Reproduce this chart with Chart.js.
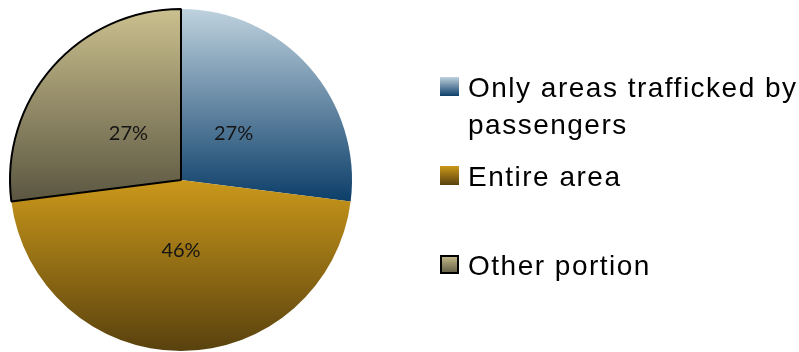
<!DOCTYPE html>
<html>
<head>
<meta charset="utf-8">
<script src="https://cdn.jsdelivr.net/npm/chart.js@4"></script>
<style>
  html, body { margin: 0; padding: 0; background: #fff; }
  #wrap { width: 799px; height: 352px; }
</style>
</head>
<body>
<div id="wrap"><canvas id="areaChart" width="799" height="352"></canvas></div>
<script>
// Cleaning scope shares
const categories = ["Only areas trafficked by passengers", "Entire area", "Other portion"];
const shares = [27, 46, 27];
const valueLabels = ["27%", "46%", "27%"];

// top / bottom colour of each slice's vertical gradient
const gradTop = ["#bfd2de", "#cb981a", "#cbc08e"];
const gradBottom = ["#0c3e69", "#58410e", "#5b5641"];
const sliceBorder = ["rgba(0,0,0,0)", "rgba(0,0,0,0)", "#000000"];
const sliceBorderWidth = [0, 0, 2];

// vertical extent of slice i, used to lay the gradient over it
function sliceYRange(chart, i) {
  const a = chart.chartArea;
  const cy = (a.top + a.bottom) / 2;
  const r = Math.min(a.right - a.left, a.bottom - a.top) / 2;
  const total = shares.reduce((s, v) => s + v, 0);
  let start = 0;
  for (let k = 0; k < i; k++) start += shares[k] / total;
  const end = start + shares[i] / total;
  let minY = cy, maxY = cy;
  for (let t = 0; t <= 60; t++) {
    const ang = (start + (end - start) * t / 60) * 2 * Math.PI - Math.PI / 2;
    const y = cy + r * Math.sin(ang);
    minY = Math.min(minY, y);
    maxY = Math.max(maxY, y);
  }
  return [minY, maxY];
}

function sliceFill(ctx) {
  const chart = ctx.chart;
  if (!chart.chartArea) return gradTop[ctx.dataIndex];
  const [y0, y1] = sliceYRange(chart, ctx.dataIndex);
  const g = chart.ctx.createLinearGradient(0, y0, 0, y1);
  g.addColorStop(0, gradTop[ctx.dataIndex]);
  g.addColorStop(1, gradBottom[ctx.dataIndex]);
  return g;
}

// percentages inside the slices
const sliceLabels = {
  id: "sliceLabels",
  afterDatasetsDraw(chart) {
    const c = chart.ctx;
    const meta = chart.getDatasetMeta(0);
    c.save();
    c.font = "20px Lato, 'DejaVu Sans', sans-serif";
    c.fillStyle = "#151515";
    c.textAlign = "center";
    c.textBaseline = "middle";
    meta.data.forEach((arc, i) => {
      const mid = (arc.startAngle + arc.endAngle) / 2;
      const rr = arc.outerRadius * 0.41;
      c.fillText(valueLabels[i], arc.x + rr * Math.cos(mid), arc.y + rr * Math.sin(mid));
    });
    c.restore();
  }
};

// legend on the right, one fixed-height slot per entry
const sideLegend = {
  id: "sideLegend",
  afterDraw(chart) {
    const c = chart.ctx;
    const x0 = 440, textX = 468, firstBase = 97, slot = 89, lineH = 37, box = 19;
    c.save();
    c.font = "28px 'Liberation Sans', Arial, sans-serif";
    c.letterSpacing = "1.5px";
    c.fillStyle = "#000";
    c.textBaseline = "alphabetic";
    categories.forEach((label, i) => {
      const base = firstBase + i * slot;
      const g = c.createLinearGradient(0, base - 20, 0, base - 20 + box);
      g.addColorStop(0, gradTop[i]);
      g.addColorStop(1, gradBottom[i]);
      c.fillStyle = g;
      c.fillRect(x0, base - 20, box, box);
      if (sliceBorderWidth[i]) {
        c.strokeStyle = "#000";
        c.lineWidth = 2;
        c.strokeRect(x0 + 1, base - 19, box - 2, box - 2);
      }
      // wrap words into the space left of the window edge
      const words = label.split(" ");
      const lines = [];
      let cur = "";
      words.forEach(w => {
        const test = cur ? cur + " " + w : w;
        if (c.measureText(test).width > 335 && cur) {
          lines.push(cur);
          cur = w;
        } else {
          cur = test;
        }
      });
      lines.push(cur);
      c.fillStyle = "#000";
      lines.forEach((ln, j) => c.fillText(ln, textX, base + j * lineH));
    });
    c.restore();
  }
};

const chartCtx = document.getElementById("areaChart").getContext("2d");
const areaChart = new Chart(chartCtx, {
  type: "pie",
  data: {
    labels: categories,
    datasets: [
      {
        data: shares,
        backgroundColor: sliceFill,
        borderColor: sliceBorder,
        borderWidth: sliceBorderWidth,
      },
    ],
  },
  options: {
    responsive: false,
    animation: false,
    layout: {
      padding: { left: 9, top: 8, right: 446, bottom: 0 },
    },
    plugins: {
      legend: { display: false },
      tooltip: { enabled: false },
    },
  },
  plugins: [sliceLabels, sideLegend],
});
</script>
</body>
</html>
